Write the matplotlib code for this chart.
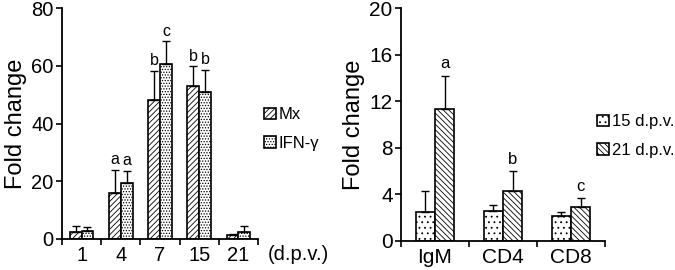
import matplotlib
matplotlib.use("Agg")
import matplotlib.pyplot as plt
import numpy as np

plt.rcParams['font.family'] = ['Liberation Sans', 'DejaVu Sans']
plt.rcParams['hatch.linewidth'] = 0.6

# left panel: Mx / IFN-gamma by day
days = ['1', '4', '7', '15', '21']
mx_vals = [2.3, 16.0, 48.0, 53.0, 1.4]
mx_err = [2.2, 8.0, 10.2, 6.8, 0.3]
ifn_vals = [2.8, 19.3, 60.6, 50.9, 2.5]
ifn_err = [1.5, 4.4, 7.8, 7.8, 2.0]
mx_marks = ['', 'a', 'b', 'b', '']
ifn_marks = ['', 'a', 'c', 'b', '']

# right panel: IgM / CD4 / CD8 at 15 and 21 d.p.v.
genes = ['IgM', 'CD4', 'CD8']
d15_vals = [2.5, 2.6, 2.15]
d15_err = [1.8, 0.5, 0.35]
d21_vals = [11.3, 4.3, 2.9]
d21_err = [2.9, 1.7, 0.8]
d21_marks = ['a', 'b', 'c']

fig = plt.figure(figsize=(6.75, 2.7), dpi=100)
ax1 = fig.add_axes([62/675, 1-239/270, (258-62)/675, (239-8)/270])
ax2 = fig.add_axes([401/675, 1-241/270, (605-401)/675, (241-8)/270])


def style_axis(ax, n, labels, ymax, ystep, fs):
    for s in ['top', 'right']:
        ax.spines[s].set_visible(False)
    for s in ['left', 'bottom']:
        ax.spines[s].set_linewidth(1.3)
    ax.set_xlim(-0.5, n - 0.5)
    ax.set_ylim(0, ymax)
    ax.set_yticks(np.arange(0, ymax + 1, ystep))
    ax.set_xticks(np.arange(n))
    ax.set_xticklabels(labels, fontsize=fs)
    ax.set_xticks(np.arange(n + 1) - 0.5, minor=True)
    ax.tick_params(axis='x', which='major', length=0, pad=5)
    ax.tick_params(axis='x', which='minor', length=4, width=1.2, direction='out')
    ax.tick_params(axis='y', length=4, width=1.2, labelsize=fs, pad=2)
    ax.set_ylabel('Fold change', fontsize=17, labelpad=3)


x = np.arange(len(days))
w = 0.3
ekw = dict(elinewidth=1, capthick=1, ecolor='black')
ax1.bar(x - w/2, mx_vals, w, color='white', edgecolor='black', linewidth=1.2,
        hatch='//////', label='Mx')
ax1.errorbar(x - w/2, mx_vals, yerr=[np.zeros(len(x)), mx_err], fmt='none', capsize=3, **ekw)
ax1.bar(x + w/2, ifn_vals, w, color='white', edgecolor='black', linewidth=1.2,
        hatch='......', label='IFN-γ')
ax1.errorbar(x + w/2, ifn_vals, yerr=[np.zeros(len(x)), ifn_err], fmt='none', capsize=3, **ekw)
for i in range(len(days)):
    if mx_marks[i]:
        ax1.annotate(mx_marks[i], (x[i] - w/2, mx_vals[i] + mx_err[i]), xytext=(0, 2),
                     textcoords='offset points', ha='center', va='bottom', fontsize=11.5)
    if ifn_marks[i]:
        ax1.annotate(ifn_marks[i], (x[i] + w/2, ifn_vals[i] + ifn_err[i]), xytext=(0, 2),
                     textcoords='offset points', ha='center', va='bottom', fontsize=11.5)
style_axis(ax1, len(days), days, 80, 20, 14.5)
ax1.legend(loc='center left', bbox_to_anchor=(264/675, 1-129/270), bbox_transform=fig.transFigure,
           frameon=False, fontsize=12, handlelength=0.7, handleheight=0.7, handletextpad=0.2,
           labelspacing=0.8, borderaxespad=0, borderpad=0)
fig.text(268/675, 1-254/270, '(d.p.v.)', fontsize=14.5, va='center', ha='left')

x2 = np.arange(len(genes))
w2 = 0.28
ax2.bar(x2 - w2/2, d15_vals, w2, color='white', edgecolor='black', linewidth=1.2,
        hatch='...', label='15 d.p.v.')
ax2.errorbar(x2 - w2/2, d15_vals, yerr=[np.zeros(len(x2)), d15_err], fmt='none', capsize=3, **ekw)
ax2.bar(x2 + w2/2, d21_vals, w2, color='white', edgecolor='black', linewidth=1.2,
        hatch='\\\\\\\\\\\\', label='21 d.p.v.')
ax2.errorbar(x2 + w2/2, d21_vals, yerr=[np.zeros(len(x2)), d21_err], fmt='none', capsize=3, **ekw)
for i in range(len(genes)):
    ax2.annotate(d21_marks[i], (x2[i] + w2/2, d21_vals[i] + d21_err[i]), xytext=(0, 3),
                 textcoords='offset points', ha='center', va='bottom', fontsize=12)
style_axis(ax2, len(genes), genes, 20, 4, 15)
ax2.legend(loc='center left', bbox_to_anchor=(597/675, 1-136/270), bbox_transform=fig.transFigure,
           frameon=False, fontsize=12, handlelength=0.7, handleheight=0.7, handletextpad=0.2,
           labelspacing=0.8, borderaxespad=0, borderpad=0)

fig.savefig('out.png', dpi=100)
